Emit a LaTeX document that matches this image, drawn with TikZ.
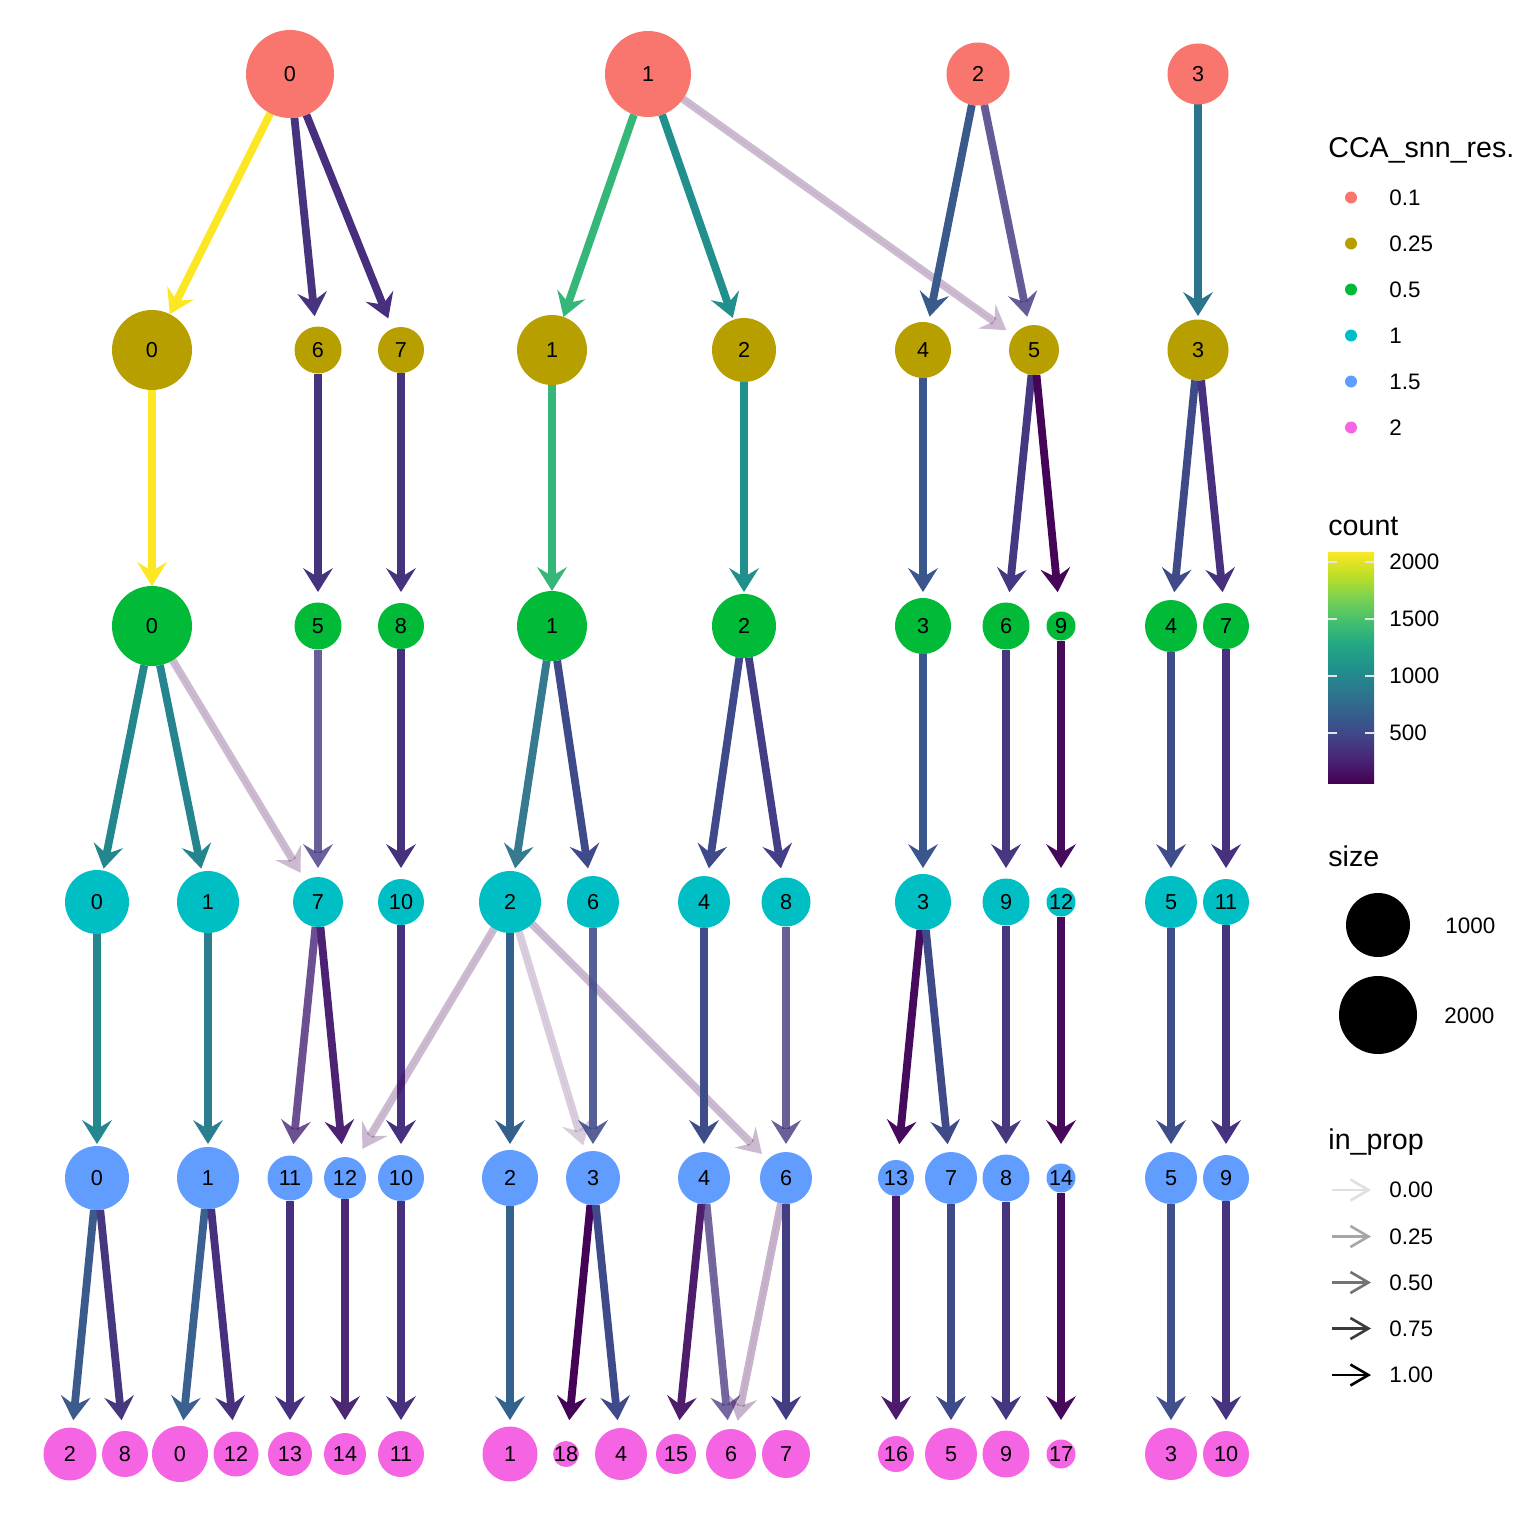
\documentclass[tikz,border=0pt]{standalone}
\usepackage{fontspec}
\setmainfont{Liberation Sans}
\usetikzlibrary{arrows.meta}
\pgfdeclarelayer{bglayer}
\pgfdeclarelayer{edgelayer}
\pgfsetlayers{bglayer,edgelayer,main}
\definecolor{cA}{HTML}{F8766D}
\definecolor{cB}{HTML}{B79F00}
\definecolor{cC}{HTML}{00BA38}
\definecolor{cD}{HTML}{00BFC4}
\definecolor{cE}{HTML}{619CFF}
\definecolor{cF}{HTML}{F564E3}
\definecolor{v0}{HTML}{440154}
\definecolor{v1}{HTML}{482475}
\definecolor{v2}{HTML}{414487}
\definecolor{v3}{HTML}{355F8D}
\definecolor{v4}{HTML}{2A788E}
\definecolor{v5}{HTML}{21918C}
\definecolor{v6}{HTML}{22A884}
\definecolor{v7}{HTML}{44BF70}
\definecolor{v8}{HTML}{7AD151}
\definecolor{v9}{HTML}{BDDF26}
\definecolor{v10}{HTML}{FDE725}
\pgfdeclareverticalshading{viridisbar}{100bp}{color(0bp)=(v0); color(25bp)=(v0); color(30bp)=(v1); color(35bp)=(v2); color(40bp)=(v3); color(45bp)=(v4); color(50bp)=(v5); color(55bp)=(v6); color(60bp)=(v7); color(65bp)=(v8); color(70bp)=(v9); color(75bp)=(v10); color(100bp)=(v10)}
\tikzset{
  nd/.style={circle, draw=none, inner sep=0pt, outer sep=0pt},
  lab/.style={inner sep=0pt, font=\fontsize{10.8}{12}\selectfont},
  edge/.style={line width=3.9pt, -{Stealth[length=12pt,width=15pt,inset=4.5pt,line width=0pt]}},
  ttl/.style={inner sep=0pt, font=\fontsize{14.3}{16}\selectfont},
  lbl/.style={inner sep=0pt, font=\fontsize{11.2}{13}\selectfont},
  legarrow/.style={line width=1.3pt, -{Straight Barb[length=9pt,width=10.5pt]}},
}
\newcommand\N[6]{%
  \node[nd, fill=#6, minimum size=#4pt] (#1) at (#2,#3) {};
  \node[lab] (#1t) at (#1) {#5};
  \expandafter\gdef\csname R#1\endcsname{#4}}
\newcommand\E[4]{%
  \pgfmathsetmacro\shv{max(0,34-\csname R#2\endcsname)*0.5}%
  \definecolor{ec}{HTML}{#3}%
  \draw[edge, draw=ec, fill=ec, opacity=#4, shorten >=\shv pt] (#1) -- (#2);}
\begin{document}
\begin{tikzpicture}[x=0.5pt,y=-0.5pt]
\begin{pgfonlayer}{bglayer}
\path[use as bounding box, fill=white] (0,0) rectangle (1536,1536);
\end{pgfonlayer}
% ---------- nodes ----------
\N{a0}{290}{74}{44}{0}{cA}
\N{a1}{648}{74}{43}{1}{cA}
\N{a2}{978}{74}{31.5}{2}{cA}
\N{a3}{1198}{74}{30.5}{3}{cA}
\N{b0}{152}{350}{40}{0}{cB}
\N{b6}{318}{350}{23.5}{6}{cB}
\N{b7}{401}{350}{23}{7}{cB}
\N{b1}{552}{350}{35}{1}{cB}
\N{b2}{744}{350}{32}{2}{cB}
\N{b4}{923}{350}{28}{4}{cB}
\N{b5}{1034}{350}{25}{5}{cB}
\N{b3}{1198}{350}{30.5}{3}{cB}
\N{c0}{152}{626}{40}{0}{cC}
\N{c5}{318}{626}{23.5}{5}{cC}
\N{c8}{401}{626}{23}{8}{cC}
\N{c1}{552}{626}{35}{1}{cC}
\N{c2}{744}{626}{32}{2}{cC}
\N{c3}{923}{626}{28}{3}{cC}
\N{c6}{1006}{626}{23.5}{6}{cC}
\N{c9}{1061}{626}{14.5}{9}{cC}
\N{c4}{1171}{626}{26}{4}{cC}
\N{c7}{1226}{626}{23}{7}{cC}
\N{d0}{97}{902}{32}{0}{cD}
\N{d1}{208}{902}{31}{1}{cD}
\N{d7}{318}{902}{25}{7}{cD}
\N{d10}{401}{902}{23}{10}{cD}
\N{d2}{510}{902}{31}{2}{cD}
\N{d6}{593}{902}{26}{6}{cD}
\N{d4}{704}{902}{26}{4}{cD}
\N{d8}{786}{902}{24.5}{8}{cD}
\N{d3}{923}{902}{28}{3}{cD}
\N{d9}{1006}{902}{23.5}{9}{cD}
\N{d12}{1061}{902}{14.5}{12}{cD}
\N{d5}{1171}{902}{26}{5}{cD}
\N{d11}{1226}{902}{23}{11}{cD}
\N{e0}{97}{1178}{32}{0}{cE}
\N{e1}{208}{1178}{31}{1}{cE}
\N{e11}{290}{1178}{22.5}{11}{cE}
\N{e12}{345}{1178}{21}{12}{cE}
\N{e10}{401}{1178}{23}{10}{cE}
\N{e2}{510}{1178}{28}{2}{cE}
\N{e3}{593}{1178}{27}{3}{cE}
\N{e4}{704}{1178}{26}{4}{cE}
\N{e6}{786}{1178}{26}{6}{cE}
\N{e13}{896}{1178}{18}{13}{cE}
\N{e7}{951}{1178}{26}{7}{cE}
\N{e8}{1006}{1178}{23.5}{8}{cE}
\N{e14}{1061}{1178}{14.5}{14}{cE}
\N{e5}{1171}{1178}{26}{5}{cE}
\N{e9}{1226}{1178}{23}{9}{cE}
\N{f2}{70}{1454}{26.5}{2}{cF}
\N{f8}{125}{1454}{23}{8}{cF}
\N{f0}{180}{1454}{28}{0}{cF}
\N{f12}{236}{1454}{22.5}{12}{cF}
\N{f13}{290}{1454}{22}{13}{cF}
\N{f14}{345}{1454}{21}{14}{cF}
\N{f11}{401}{1454}{23}{11}{cF}
\N{f1}{510}{1454}{27.5}{1}{cF}
\N{f18}{566}{1454}{13}{18}{cF}
\N{f4}{621}{1454}{26}{4}{cF}
\N{f15}{676}{1454}{20}{15}{cF}
\N{f6}{731}{1454}{25}{6}{cF}
\N{f7}{786}{1454}{24}{7}{cF}
\N{f16}{896}{1454}{18}{16}{cF}
\N{f5}{951}{1454}{26}{5}{cF}
\N{f9}{1006}{1454}{23.5}{9}{cF}
\N{f17}{1061}{1454}{14.5}{17}{cF}
\N{f3}{1171}{1454}{26}{3}{cF}
\N{f10}{1226}{1454}{23}{10}{cF}
% ---------- edges ----------
\begin{pgfonlayer}{edgelayer}
\E{a0}{b0}{FDE725}{1}
\E{a0}{b6}{48337F}{1}
\E{a0}{b7}{482F7E}{1}
\E{a1}{b1}{35B779}{1}
\E{a1}{b2}{21908C}{1}
\E{a1}{b5}{440154}{0.27}
\E{a2}{b4}{3A5A8C}{1}
\E{a2}{b5}{453781}{0.82}
\E{a3}{b3}{2C738E}{1}
\E{b0}{c0}{FDE725}{1}
\E{b6}{c5}{46337E}{1}
\E{b7}{c8}{46337E}{1}
\E{b1}{c1}{35B779}{1}
\E{b2}{c2}{21908C}{1}
\E{b4}{c3}{3A568C}{1}
\E{b5}{c6}{453781}{1}
\E{b5}{c9}{450457}{1}
\E{b3}{c4}{3F4A89}{1}
\E{b3}{c7}{47307E}{1}
\E{c0}{d0}{25878E}{1}
\E{c0}{d1}{25858E}{1}
\E{c0}{d7}{440154}{0.27}
\E{c5}{d7}{453781}{0.8}
\E{c8}{d10}{47307E}{1}
\E{c1}{d2}{367A8F}{1}
\E{c1}{d6}{3E4A89}{1}
\E{c2}{d4}{3E4A89}{1}
\E{c2}{d8}{433E85}{1}
\E{c3}{d3}{3A568C}{1}
\E{c6}{d9}{46377F}{1}
\E{c9}{d12}{470A5B}{1}
\E{c4}{d5}{3E4C8A}{1}
\E{c7}{d11}{47317E}{1}
\E{d0}{e0}{25878E}{1}
\E{d1}{e1}{2A7E8E}{1}
\E{d7}{e11}{482576}{0.8}
\E{d7}{e12}{4D2272}{1}
\E{d10}{e10}{47307E}{1}
\E{d2}{e2}{34608D}{1}
\E{d2}{e12}{440154}{0.27}
\E{d2}{e3}{440154}{0.2}
\E{d2}{e6}{440154}{0.27}
\E{d6}{e3}{3E4A89}{0.88}
\E{d4}{e4}{3E4C8A}{1}
\E{d8}{e6}{46377F}{0.8}
\E{d3}{e13}{470B5E}{1}
\E{d3}{e7}{3F4A89}{1}
\E{d9}{e8}{46377F}{1}
\E{d12}{e14}{470A5B}{1}
\E{d5}{e5}{3E4E8A}{1}
\E{d11}{e9}{47327E}{1}
\E{e0}{f2}{3C5B8D}{1}
\E{e0}{f8}{46377F}{1}
\E{e1}{f0}{3B6190}{1}
\E{e1}{f12}{47307E}{1}
\E{e11}{f13}{47307E}{1}
\E{e12}{f14}{4B2774}{1}
\E{e10}{f11}{47307E}{1}
\E{e2}{f1}{33628D}{1}
\E{e3}{f18}{440357}{1}
\E{e3}{f4}{3E4A89}{1}
\E{e4}{f15}{4E1D6C}{1}
\E{e4}{f6}{46337E}{0.75}
\E{e6}{f6}{440154}{0.3}
\E{e6}{f7}{433D84}{1}
\E{e13}{f16}{4D1B6B}{1}
\E{e7}{f5}{3E4A89}{1}
\E{e8}{f9}{46367F}{1}
\E{e14}{f17}{470A5B}{1}
\E{e5}{f3}{3F508A}{1}
\E{e9}{f10}{47347F}{1}
\end{pgfonlayer}
% ---------- legend: CCA_snn_res. ----------
\node[ttl, anchor=base west] (tres) at (1328,157) {CCA\_snn\_res.};
\node[nd, fill=cA, minimum size=6pt] (k1) at (1351,197.5) {};
\node[nd, fill=cB, minimum size=6pt] (k2) at (1351,243.5) {};
\node[nd, fill=cC, minimum size=6pt] (k3) at (1351,289.5) {};
\node[nd, fill=cD, minimum size=6pt] (k4) at (1351,335.5) {};
\node[nd, fill=cE, minimum size=6pt] (k5) at (1351,381.5) {};
\node[nd, fill=cF, minimum size=6pt] (k6) at (1351,427.5) {};
\node[lbl, anchor=west] (k1t) at (1389,197.5) {0.1};
\node[lbl, anchor=west] (k2t) at (1389,243.5) {0.25};
\node[lbl, anchor=west] (k3t) at (1389,289.5) {0.5};
\node[lbl, anchor=west] (k4t) at (1389,335.5) {1};
\node[lbl, anchor=west] (k5t) at (1389,381.5) {1.5};
\node[lbl, anchor=west] (k6t) at (1389,427.5) {2};
% ---------- legend: count ----------
\node[ttl, anchor=base west] (tcount) at (1328,535) {count};
\shade[shading=viridisbar] (1328,552) rectangle (1374,783);
\foreach \yy in {562,619,676,733}{
  \draw[white!80!gray, line width=0.6pt] (1328,\yy) -- (1337,\yy);
  \draw[white!80!gray, line width=0.6pt] (1365,\yy) -- (1374,\yy);
}
\node[lbl, anchor=west] (cb1) at (1389,562) {2000};
\node[lbl, anchor=west] (cb2) at (1389,619) {1500};
\node[lbl, anchor=west] (cb3) at (1389,676) {1000};
\node[lbl, anchor=west] (cb4) at (1389,733) {500};
% ---------- legend: size ----------
\node[ttl, anchor=base west] (tsize) at (1328,866) {size};
\node[nd, fill=black, minimum size=32pt] (s1) at (1378,925) {};
\node[nd, fill=black, minimum size=39pt] (s2) at (1378,1015) {};
\node[lbl, anchor=west] (s1t) at (1445,926) {1000};
\node[lbl, anchor=west] (s2t) at (1444,1016) {2000};
% ---------- legend: in_prop ----------
\node[ttl, anchor=base west] (tprop) at (1328,1149) {in\_prop};
\coordinate (p1a) at (1332,1190); \coordinate (p1b) at (1371,1190);
\coordinate (p2a) at (1332,1236.5); \coordinate (p2b) at (1371,1236.5);
\coordinate (p3a) at (1332,1282.5); \coordinate (p3b) at (1371,1282.5);
\coordinate (p4a) at (1332,1328.5); \coordinate (p4b) at (1371,1328.5);
\coordinate (p5a) at (1332,1375); \coordinate (p5b) at (1371,1375);
\draw[legarrow, draw=black!12] (p1a) -- (p1b);
\draw[legarrow, draw=black!35] (p2a) -- (p2b);
\draw[legarrow, draw=black!55] (p3a) -- (p3b);
\draw[legarrow, draw=black!77] (p4a) -- (p4b);
\draw[legarrow, draw=black] (p5a) -- (p5b);
\node[lbl, anchor=west] (p1t) at (1389,1190) {0.00};
\node[lbl, anchor=west] (p2t) at (1389,1236.5) {0.25};
\node[lbl, anchor=west] (p3t) at (1389,1282.5) {0.50};
\node[lbl, anchor=west] (p4t) at (1389,1328.5) {0.75};
\node[lbl, anchor=west] (p5t) at (1389,1375) {1.00};
\end{tikzpicture}
\end{document}
